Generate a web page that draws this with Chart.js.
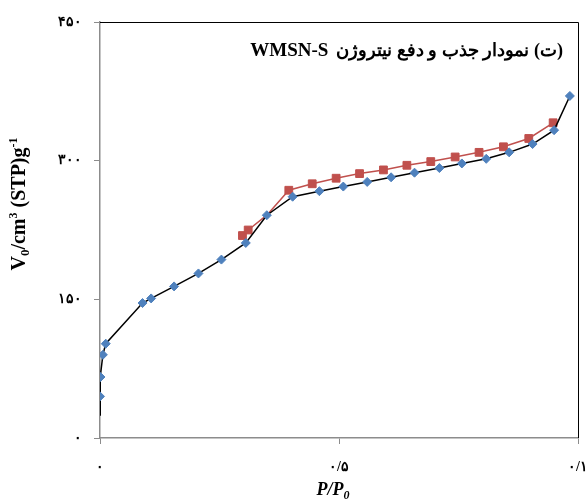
<html>
<head>
<meta charset="utf-8">
<title>WMSN-S</title>
<script src="https://cdn.jsdelivr.net/npm/chart.js"></script>
<style>
  body { margin: 0; background: #fff; }
  #wrap { width: 586px; height: 503px; }
</style>
</head>
<body>
<div id="wrap"><canvas id="graph" width="586" height="503"></canvas></div>
<script>
// adsorption branch (blue diamonds, black line)
var adsX = [0.0, 0.0, 0.001, 0.006, 0.012, 0.089, 0.107, 0.155, 0.206, 0.254, 0.305, 0.349, 0.403, 0.459, 0.509, 0.559, 0.609, 0.658, 0.710, 0.757, 0.808, 0.856, 0.905, 0.950, 0.983]
var adsY = [25, 45, 66, 90, 102, 146, 151, 164, 178, 193, 211, 241, 261, 267, 272, 277, 282, 287, 292, 297, 302, 309, 318, 333, 370]
// desorption branch (red squares)
var desX = [0.298, 0.310, 0.349, 0.395, 0.444, 0.494, 0.543, 0.593, 0.642, 0.692, 0.743, 0.793, 0.844, 0.897, 0.948]
var desY = [219, 225, 241, 268, 275, 281, 286, 290, 295, 299, 304, 309, 315, 324, 341]

var xTicks = {0: "۰", 0.5: "۰/۵", 1: "۰/۱"}
var yTicks = {0: "۰", 150: "۱۵۰", 300: "۳۰۰", 450: "۴۵۰"}
var titleFa = "(ت) نمودار جذب و دفع نیتروژن"
var titleEn = "WMSN-S"

function pts(xs, ys) {
    var out = []
    for (var i = 0; i < xs.length; i++) out.push({x: xs[i], y: ys[i]})
    return out
}

// first adsorption point has no marker, desorption point shared with adsorption is hidden
var adsRadius = adsX.map((v, i) => i == 0 ? 0 : 4.5)
var desRadius = desX.map((v, i) => i == 2 ? 0 : 5.5)

var extras = {
    id: "extras",
    afterDraw(chart) {
        var ctx = chart.ctx
        var a = chart.chartArea
        ctx.save()
        // top and right frame
        ctx.strokeStyle = "#000"
        ctx.lineWidth = 1
        ctx.beginPath()
        ctx.moveTo(a.left, a.top + 0.5)
        ctx.lineTo(a.right + 0.5, a.top + 0.5)
        ctx.lineTo(a.right + 0.5, a.bottom)
        ctx.stroke()

        // title inside plot: persian part on the right, latin part on the left
        ctx.fillStyle = "#000"
        ctx.textBaseline = "alphabetic"
        ctx.direction = "rtl"
        ctx.textAlign = "right"
        ctx.font = "bold 16px 'Liberation Serif'"
        var wf = ctx.measureText(titleFa).width
        var fs = Math.min(20, 16 * 228 / wf)
        ctx.font = "bold " + fs.toFixed(1) + "px 'Liberation Serif'"
        ctx.fillText(titleFa, 563, 56)
        wf = ctx.measureText(titleFa).width
        ctx.direction = "ltr"
        ctx.font = "bold 19px 'Liberation Serif'"
        ctx.textAlign = "right"
        ctx.fillText(titleEn, 563 - wf - 8, 56)

        // x axis title P/P0
        ctx.textAlign = "left"
        ctx.font = "bold italic 18px 'Liberation Serif'"
        var w1 = ctx.measureText("P/P").width
        ctx.font = "bold italic 12px 'Liberation Serif'"
        var w2 = ctx.measureText("0").width
        var sx = 333 - (w1 + w2) / 2
        ctx.font = "bold italic 18px 'Liberation Serif'"
        ctx.fillText("P/P", sx, 495)
        ctx.font = "bold italic 12px 'Liberation Serif'"
        ctx.fillText("0", sx + w1, 499)

        // y axis title
        ctx.translate(25, 204)
        ctx.rotate(-Math.PI / 2)
        var parts = [
            ["V", 20, 0], ["0", 13, 4], ["/cm", 20, 0], ["3", 12, -8],
            [" (STP)g", 20, 0], ["-1", 12, -8]
        ]
        var total = 0
        parts.forEach(p => { ctx.font = "bold " + p[1] + "px 'Liberation Serif'"; total += ctx.measureText(p[0]).width })
        var cx = -total / 2
        parts.forEach(p => {
            ctx.font = "bold " + p[1] + "px 'Liberation Serif'"
            ctx.fillText(p[0], cx, p[2])
            cx += ctx.measureText(p[0]).width
        })
        ctx.restore()
    }
}

const graphConfig = {
    type: "scatter",
    data: {
        datasets: [
            {
                label: "adsorption",
                data: pts(adsX, adsY),
                showLine: true,
                borderColor: "#000000",
                borderWidth: 1.5,
                pointStyle: "rectRot",
                pointRadius: adsRadius,
                pointBackgroundColor: "#4F81BD",
                pointBorderColor: "#4F81BD",
                pointBorderWidth: 1,
                tension: 0
            },
            {
                label: "desorption",
                data: pts(desX, desY),
                showLine: true,
                borderColor: "#C0504D",
                borderWidth: 1.5,
                pointStyle: "rect",
                pointRadius: desRadius,
                pointBackgroundColor: "#C0504D",
                pointBorderColor: "#C0504D",
                pointBorderWidth: 1,
                tension: 0
            }
        ]
    },
    options: {
        responsive: false,
        animation: false,
        layout: { padding: { left: 0, right: 8, top: 22, bottom: 0 } },
        plugins: {
            legend: { display: false },
            title: { display: false },
            tooltip: { enabled: false }
        },
        scales: {
            x: {
                type: "linear",
                min: 0,
                max: 1,
                border: { color: "#8c8c8c", width: 1.5 },
                grid: { drawOnChartArea: false, drawTicks: true, tickLength: 6, color: "#8c8c8c" },
                ticks: {
                    stepSize: 0.5,
                    padding: 15,
                    color: "#000",
                    maxRotation: 0,
                    font: { family: "'Liberation Serif'", size: 14, weight: "bold" },
                    callback: v => xTicks[v] !== undefined ? xTicks[v] : ""
                },
                afterFit: s => { s.height = 65; s.paddingLeft = 0; s.paddingRight = 0 }
            },
            y: {
                type: "linear",
                min: 0,
                max: 450,
                border: { color: "#8c8c8c", width: 1.5 },
                grid: { drawOnChartArea: false, drawTicks: true, tickLength: 6, color: "#8c8c8c" },
                ticks: {
                    stepSize: 150,
                    padding: 12,
                    color: "#000",
                    font: { family: "'Liberation Serif'", size: 14, weight: "bold" },
                    callback: v => yTicks[v] !== undefined ? yTicks[v] : ""
                },
                afterFit: s => { s.width = 100; s.paddingTop = 0; s.paddingBottom = 0 }
            }
        }
    },
    plugins: [extras]
}

new Chart(document.getElementById("graph"), graphConfig)
</script>
</body>
</html>
